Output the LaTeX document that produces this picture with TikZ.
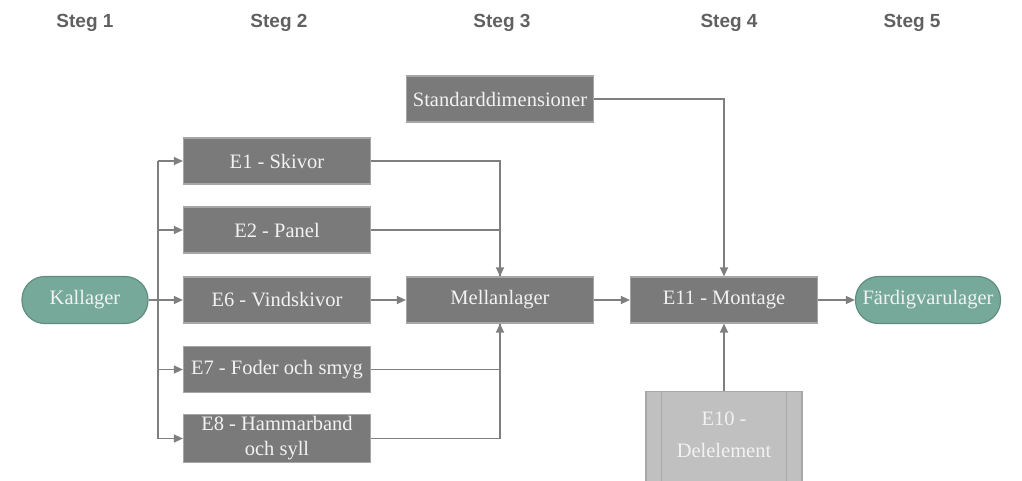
\documentclass[tikz,border=0pt]{standalone}
\usepackage{fontspec}
\setmainfont{Liberation Serif}
\newfontfamily\headfont{Liberation Sans}
\usetikzlibrary{arrows.meta,positioning}
\definecolor{boxfill}{HTML}{7A7A7A}
\definecolor{boxline}{HTML}{A6A6A6}
\definecolor{boxtext}{HTML}{F2F2F2}
\definecolor{pillfill}{HTML}{77A99B}
\definecolor{pillline}{HTML}{5F8E81}
\definecolor{linkcol}{HTML}{7F7F7F}
\definecolor{headcol}{HTML}{606060}
\definecolor{subfill}{HTML}{C0C0C0}
\definecolor{subline}{HTML}{A8A8A8}
\tikzset{
  x=1pt, y=-1pt,
  stepbox/.style={draw=boxline, line width=1.2pt, fill=boxfill, text=boxtext,
    minimum width=187pt, minimum height=46pt, inner sep=2pt, align=center,
    font=\fontsize{20.5}{22}\selectfont},
  storebox/.style={draw=pillline, line width=1.2pt, fill=pillfill, text=boxtext,
    rounded corners=23pt, minimum height=47pt, inner sep=2pt,
    font=\fontsize{20.5}{22}\selectfont},
  header/.style={text=headcol, font=\headfont\bfseries\fontsize{19}{21}\selectfont},
  link/.style={draw=linkcol, line width=1.3pt},
  arr/.style={link, -{Triangle[length=9pt,width=8pt]}},
}
\begin{document}
\begin{tikzpicture}
\useasboundingbox (0,0) rectangle (1022,481);
\clip (0,0) rectangle (1022,481);

% column headings
\node[header] (h1) at (85,23) {Steg 1};
\node[header] (h2) at (279,23) {Steg 2};
\node[header] (h3) at (502,23) {Steg 3};
\node[header] (h4) at (729,23) {Steg 4};
\node[header] (h5) at (912,23) {Steg 5};

% stores
\node[storebox, minimum width=126pt] (kal) at (85,300) {Kallager};
\node[storebox, minimum width=145pt] (fard) at (928,300) {Färdigvarulager};

% step 2 processes
\node[stepbox] (e1) at (277,161) {E1 - Skivor};
\node[stepbox] (e2) at (277,230) {E2 - Panel};
\node[stepbox] (e6) at (277,300) {E6 - Vindskivor};
\node[stepbox] (e7) at (277,369.5) {E7 - Foder och smyg};
\node[stepbox, font=\fontsize{20.5}{25}\selectfont] (e8) at (277,438.5) {E8 - Hammarband\\och syll};

% step 3 / 4
\node[stepbox] (std) at (500,99) {Standarddimensioner};
\node[stepbox] (mel) at (500,300) {Mellanlager};
\node[stepbox] (e11) at (724,300) {E11 - Montage};

% sub-element feed (predefined process)
\node[draw=subline, line width=1.2pt, fill=subfill, minimum width=156pt,
  minimum height=100pt, anchor=north] (e10) at (724,391) {};
\draw[subline, line width=1.2pt] ([xshift=16pt]e10.north west) -- ([xshift=16pt]e10.south west);
\draw[subline, line width=1.2pt] ([xshift=-16pt]e10.north east) -- ([xshift=-16pt]e10.south east);
\node[text=boxtext, align=center, font=\fontsize{20.5}{32}\selectfont] (e10t) at (724,434.5) {E10 -\\Delelement};

% distribution from Kallager
\coordinate (split) at (158,300);
\draw[link] (kal.east) -- (split);
\draw[link] (158,161) -- (158,438.5);
\draw[arr] (158,161) -- (e1.west);
\draw[arr] (158,230) -- (e2.west);
\draw[arr] (split) -- (e6.west);
\draw[arr] (158,369.5) -- (e7.west);
\draw[arr] (158,438.5) -- (e8.west);

% into Mellanlager
\draw[link] (e1.east) -| (mel.north);
\draw[link] (e2.east) -- (500,230);
\draw[arr] (500,230) -- (mel.north);
\draw[arr] (e6.east) -- (mel.west);
\draw[link] (e8.east) -| (mel.south);
\draw[link] (e7.east) -- (500,369.5);
\draw[arr] (500,369.5) -- (mel.south);

% into Montage and out
\draw[arr] (mel.east) -- (e11.west);
\draw[arr] (std.east) -| (e11.north);
\draw[arr] (e10.north) -- (e11.south);
\draw[arr] (e11.east) -- (fard.west);
\end{tikzpicture}
\end{document}
